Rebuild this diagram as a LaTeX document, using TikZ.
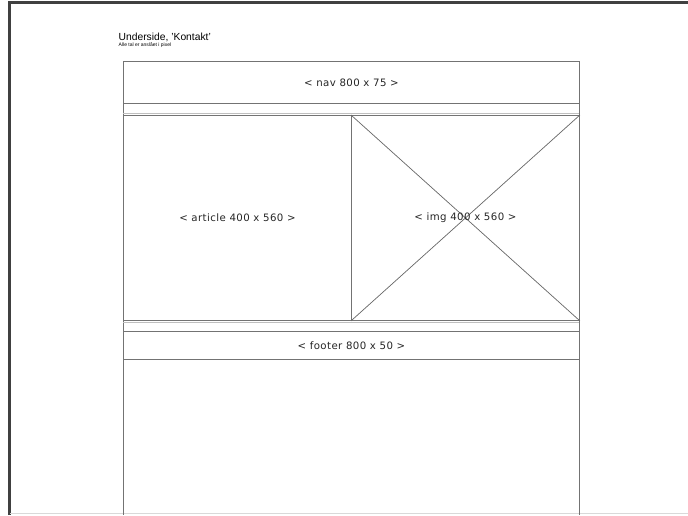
\documentclass[tikz,border=0pt]{standalone}
\usepackage{fontspec}
\setmainfont{Liberation Sans}
\newfontfamily\lblfont[LetterSpace=4]{DejaVu Sans}
\begin{document}
\begin{tikzpicture}[x=1pt,y=-1pt,
  boxline/.style={draw=black!55,line width=0.9pt},
  faint/.style={draw=black!25,line width=1pt},
  frame/.style={draw=black!75,line width=2.6pt},
  lbl/.style={font=\lblfont\fontsize{10.2}{12}\selectfont,inner sep=1pt,text=black!85}]
\useasboundingbox (0,0) rectangle (688,515);
\fill[white] (0,0) rectangle (688,515);
% outer frame
\draw[frame] (9.3,515) -- (9.3,2.3) -- (688,2.3);
\draw[draw=black!15,line width=0.8pt] (10,513.5) -- (688,513.5);
% title
\node[anchor=west,inner sep=0pt,font=\fontsize{10.3}{11}\selectfont] (title) at (118.5,37.5) {Underside, 'Kontakt'};
\node[anchor=west,inner sep=0pt,font=\fontsize{5}{6}\selectfont] (sub) at (118.5,45) {Alle tal er anslået i pixel};
% column sides
\draw[boxline] (123,61) -- (123,515);
\draw[boxline] (579,61) -- (579,515);
% nav
\node[boxline,minimum width=456pt,minimum height=42pt,inner sep=0pt,anchor=north west] (nav) at (123,61) {};
\node[lbl] (navl) at (nav.center) {< nav 800 x 75 >};
% band lines
\draw[faint] (123,113) -- (579,113);
% article
\node[boxline,minimum width=228pt,minimum height=205pt,inner sep=0pt,anchor=north west] (article) at (123,115) {};
\node[lbl] (artl) at (article.center) {< article 400 x 560 >};
% img
\node[boxline,minimum width=228pt,minimum height=205pt,inner sep=0pt,anchor=north west] (img) at (351,115) {};
\draw[draw=black!60,line width=0.7pt] (img.north west) -- (img.south east);
\draw[draw=black!60,line width=0.7pt] (img.north east) -- (img.south west);
\node[lbl] (imgl) at (img.center) {< img 400 x 560 >};
\draw[faint] (123,322) -- (579,322);
% footer
\node[boxline,minimum width=456pt,minimum height=28pt,inner sep=0pt,anchor=north west] (footer) at (123,331) {};
\node[lbl] (footl) at (footer.center) {< footer 800 x 50 >};
\end{tikzpicture}
\end{document}
